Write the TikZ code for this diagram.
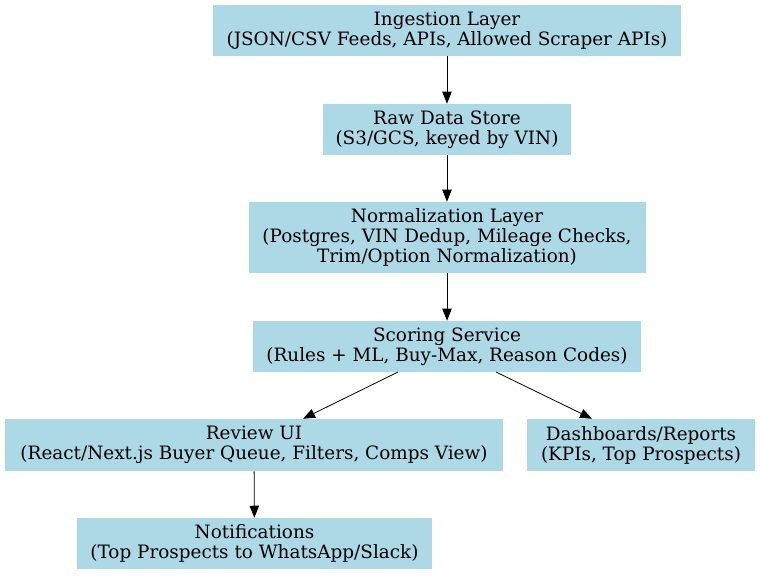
\documentclass[tikz,border=0pt]{standalone}
\usepackage{fontspec}
\setmainfont{DejaVu Serif}
\usetikzlibrary{arrows.meta}
\begin{document}
\begin{tikzpicture}[x=0.75pt,y=-0.75pt]
        \tikzstyle{layer}=[rectangle, fill={rgb,255:red,173;green,216;blue,230}, inner sep=0pt, align=center, font=\fontsize{13.8}{15}\selectfont]
        \tikzstyle{flow}=[-{Triangle[length=9pt,width=7pt]}, line width=0.6pt]

        \useasboundingbox (0,0) rectangle (760,575);

        \node[layer, minimum width=468*0.75pt, minimum height=51*0.75pt] (ingest) at (447,30.5) {Ingestion Layer\\(JSON/CSV Feeds, APIs, Allowed Scraper APIs)};
        \node[layer, minimum width=248*0.75pt, minimum height=51*0.75pt] (raw) at (447,129.5) {Raw Data Store\\(S3/GCS, keyed by VIN)};
        \node[layer, minimum width=397*0.75pt, minimum height=71*0.75pt] (norm) at (447,237.5) {Normalization Layer\\(Postgres, VIN Dedup, Mileage Checks,\\Trim/Option Normalization)};
        \node[layer, minimum width=388*0.75pt, minimum height=51*0.75pt] (score) at (447,346.5) {Scoring Service\\(Rules + ML, Buy-Max, Reason Codes)};
        \node[layer, minimum width=498*0.75pt, minimum height=52*0.75pt] (review) at (254,445) {Review UI\\(React/Next.js Buyer Queue, Filters, Comps View)};
        \node[layer, minimum width=228*0.75pt, minimum height=52*0.75pt] (dash) at (641,445) {Dashboards/Reports\\(KPIs, Top Prospects)};
        \node[layer, minimum width=355*0.75pt, minimum height=51*0.75pt] (notify) at (254.5,543.5) {Notifications\\(Top Prospects to WhatsApp/Slack)};

        \draw[flow] (ingest) -- (raw);
        \draw[flow] (raw) -- (norm);
        \draw[flow] (norm) -- (score);
        \draw[flow] (398,372) -- (review.north -| 303,0);
        \draw[flow] (496,372) -- (dash.north -| 592,0);
        \draw[flow] (review) -- (notify);
    \end{tikzpicture}
\end{document}
